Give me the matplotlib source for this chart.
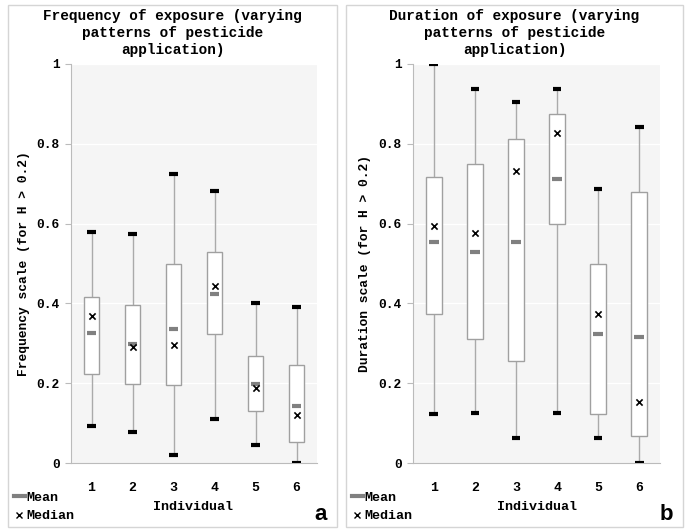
import matplotlib
matplotlib.use("Agg")
import matplotlib.pyplot as plt
from matplotlib.lines import Line2D
from matplotlib.patches import Rectangle

individuals = [1, 2, 3, 4, 5, 6]

# frequency of exposure (panel a)
freq_whislo = [0.093, 0.078, 0.020, 0.110, 0.046, 0.000]
freq_q1 = [0.222, 0.197, 0.195, 0.323, 0.130, 0.053]
freq_q3 = [0.417, 0.395, 0.500, 0.528, 0.269, 0.245]
freq_whishi = [0.578, 0.573, 0.724, 0.682, 0.401, 0.390]
freq_mean = [0.325, 0.298, 0.337, 0.424, 0.197, 0.142]
freq_median = [0.369, 0.290, 0.296, 0.444, 0.188, 0.120]

# duration of exposure (panel b)
dur_whislo = [0.123, 0.125, 0.062, 0.125, 0.062, 0.000]
dur_q1 = [0.374, 0.310, 0.256, 0.600, 0.122, 0.068]
dur_q3 = [0.717, 0.749, 0.812, 0.874, 0.498, 0.679]
dur_whishi = [1.000, 0.937, 0.905, 0.937, 0.686, 0.842]
dur_mean = [0.555, 0.530, 0.553, 0.712, 0.323, 0.315]
dur_median = [0.593, 0.577, 0.733, 0.828, 0.373, 0.154]

yticks = [0, 0.2, 0.4, 0.6, 0.8, 1]
ytick_labels = ["0", "0.2", "0.4", "0.6", "0.8", "1"]

mono = "Liberation Mono"
sans = "Liberation Sans"
W, H = 685, 532

fig = plt.figure(figsize=(6.85, 5.32), dpi=100)


def px(x, y):
    return x / W, 1 - y / H


def draw_panel(ax, whislo, q1, q3, whishi, mean, median):
    ax.set_facecolor("#f5f5f5")
    for y in yticks[1:]:
        ax.axhline(y, color="white", lw=1, zorder=0)
    ax.vlines(individuals, whislo, whishi, color="#aaaaaa", lw=1, zorder=1)
    ax.bar(individuals, [b - a for a, b in zip(q1, q3)], bottom=q1, width=0.39,
           color="white", edgecolor="#a0a0a0", lw=1, zorder=2)
    lo = [i - 0.1 for i in individuals]
    hi = [i + 0.1 for i in individuals]
    ax.hlines(whishi, lo, hi, color="black", lw=3, zorder=3)
    ax.hlines(whislo, lo, hi, color="black", lw=3, zorder=3)
    ax.hlines(mean, [i - 0.12 for i in individuals], [i + 0.12 for i in individuals],
              color="#808080", lw=3, zorder=3)
    ax.scatter(individuals, median, marker="x", color="black", s=20, lw=1.2, zorder=4)
    ax.set_xlim(0.5, 6.5)
    ax.set_ylim(0, 1)
    ax.set_yticks(yticks)
    ax.set_yticklabels(ytick_labels, fontfamily=mono, fontweight="bold", fontsize=9.3)
    ax.set_xticks(individuals)
    ax.set_xticklabels([str(i) for i in individuals], fontfamily=mono,
                       fontweight="bold", fontsize=9.5)
    ax.tick_params(axis="y", length=4, color="#bbbbbb", pad=4)
    ax.tick_params(axis="x", length=0, pad=14)
    for s in ["top", "right"]:
        ax.spines[s].set_visible(False)
    for s in ["left", "bottom"]:
        ax.spines[s].set_color("#bbbbbb")


ax1 = fig.add_axes([71 / W, 69 / H, 246 / W, 399 / H])
draw_panel(ax1, freq_whislo, freq_q1, freq_q3, freq_whishi, freq_mean, freq_median)

ax2 = fig.add_axes([413 / W, 69 / H, 247 / W, 399 / H])
draw_panel(ax2, dur_whislo, dur_q1, dur_q3, dur_whishi, dur_mean, dur_median)

panels = [
    (8, 337, "Frequency of exposure (varying\npatterns of pesticide\napplication)",
     24, "Frequency scale (for H > 0.2)", 193, "a", 321),
    (346, 683, "Duration of exposure (varying\npatterns of pesticide\napplication)",
     365, "Duration scale (for H > 0.2)", 537, "b", 666),
]

handles = [Line2D([], [], color="#808080", lw=3),
           Line2D([], [], color="black", marker="x", ls="none", markersize=5)]

for x0, x1, title, ylx, ylabel, xlx, letter, ltx in panels:
    fig.patches.append(Rectangle((x0 / W, 5 / H), (x1 - x0) / W, 522 / H,
                                 transform=fig.transFigure, fill=False,
                                 edgecolor="#d5d5d5", lw=1))
    fig.text(*px((x0 + x1) / 2, 33), title, fontfamily=mono, fontweight="bold",
             fontsize=10.4, ha="center", va="center", linespacing=1.25)
    fig.text(*px(ylx, 264), ylabel, fontfamily=mono, fontweight="bold",
             fontsize=9.4, rotation=90, ha="center", va="center")
    fig.text(*px(xlx, 507), "Individual", fontfamily=mono, fontweight="bold",
             fontsize=9.6, ha="center", va="center")
    fig.text(*px(ltx, 515), letter, fontfamily=sans, fontweight="bold", fontsize=16,
             ha="center", va="center")
    fig.legend(handles, ["Mean", "Median"], loc="center left",
               bbox_to_anchor=px(x0 + 6, 507), frameon=False, borderaxespad=0,
               borderpad=0, handlelength=0.8, handletextpad=0.1, labelspacing=0.45,
               prop={"family": mono, "weight": "bold", "size": 9.6})

fig.savefig("out.png", dpi=100)
